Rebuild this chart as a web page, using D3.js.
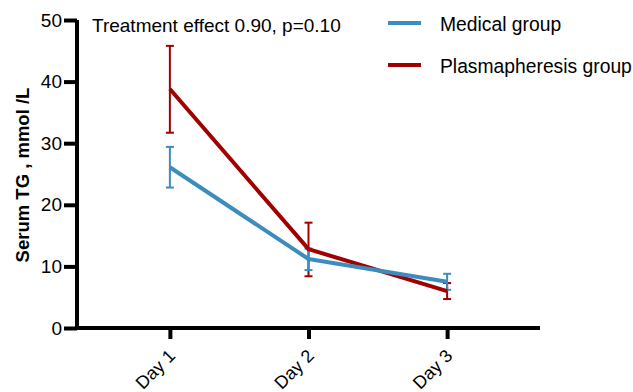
<!DOCTYPE html>
<html>
<head>
<meta charset="utf-8">
<script src="https://cdn.jsdelivr.net/npm/d3@7"></script>
<style>
  body { margin: 0; background: #fff; }
  text { font-family: "Liberation Sans", Arial, sans-serif; }
</style>
</head>
<body>
<svg id="chart" width="633" height="392"></svg>
<script>
const days = ["Day 1", "Day 2", "Day 3"];
const yTicks = [0, 10, 20, 30, 40, 50];

const medicalMean = [26.1, 11.2, 7.5];
const medicalLow = [22.8, 9.4, 6.2];
const medicalHigh = [29.4, 12.9, 8.8];

const plasmaMean = [38.8, 12.8, 6.0];
const plasmaLow = [31.7, 8.4, 4.7];
const plasmaHigh = [45.8, 17.1, 7.3];

const seriesNames = ["Medical group", "Plasmapheresis group"];
const seriesColors = ["#3b8dbd", "#a00000"];
const annotation = "Treatment effect 0.90, p=0.10";

const svg = d3.select("#chart");
const margin = { left: 77, right: 93, top: 20, bottom: 64 };
const width = 633, height = 392;

const x = d3.scalePoint()
  .domain(days)
  .range([margin.left, width - margin.right])
  .padding(0.67);
const y = d3.scaleLinear()
  .domain([0, 50])
  .range([height - margin.bottom, margin.top]);

const series = [
  { name: seriesNames[0], color: seriesColors[0], mean: medicalMean, low: medicalLow, high: medicalHigh },
  { name: seriesNames[1], color: seriesColors[1], mean: plasmaMean, low: plasmaLow, high: plasmaHigh },
];

// Error bars (drawn under lines)
const capW = 8;
for (const s of series.slice().reverse()) {
  const g = svg.append("g");
  days.forEach((d, i) => {
    const cx = x(d);
    g.append("line").attr("x1", cx).attr("x2", cx)
      .attr("y1", y(s.low[i])).attr("y2", y(s.high[i]))
      .attr("stroke", s.color).attr("stroke-width", 2);
    for (const v of [s.low[i], s.high[i]]) {
      g.append("line").attr("x1", cx - capW / 2).attr("x2", cx + capW / 2)
        .attr("y1", y(v)).attr("y2", y(v))
        .attr("stroke", s.color).attr("stroke-width", 2);
    }
  });
}

// Lines: red first, blue on top
const line = d3.line().x((d) => x(d[0])).y((d) => y(d[1]));
for (const s of series.slice().reverse()) {
  svg.append("path")
    .datum(days.map((d, i) => [d, s.mean[i]]))
    .attr("fill", "none")
    .attr("stroke", s.color)
    .attr("stroke-width", 4)
    .attr("stroke-linejoin", "round")
    .attr("d", line);
}

// Y axis
const yAxis = svg.append("g")
  .attr("transform", `translate(${margin.left},0)`)
  .call(d3.axisLeft(y).tickValues(yTicks).tickSize(13).tickPadding(2));
yAxis.select(".domain").attr("stroke", "#000").attr("stroke-width", 4)
  .attr("d", `M0,${y(50)}V${y(0) + 2}`);
yAxis.selectAll(".tick line").attr("stroke", "#000").attr("stroke-width", 4);
yAxis.selectAll(".tick text").attr("font-size", 19).attr("fill", "#000")
  .attr("font-family", "Liberation Sans, Arial, sans-serif");

// X axis
const xAxis = svg.append("g")
  .attr("transform", `translate(0,${y(0)})`)
  .call(d3.axisBottom(x).tickSize(11).tickPadding(6));
xAxis.select(".domain").attr("stroke", "#000").attr("stroke-width", 4)
  .attr("d", `M${margin.left - 2},0H${width - margin.right}`);
xAxis.selectAll(".tick line").attr("stroke", "#000").attr("stroke-width", 4);
xAxis.selectAll(".tick text")
  .attr("font-size", 18).attr("fill", "#000")
  .attr("font-family", "Liberation Sans, Arial, sans-serif")
  .attr("text-anchor", "end")
  .attr("x", 0).attr("y", 0).attr("dy", 0)
  .attr("transform", "translate(6,29) rotate(-45)");

// Y axis title
svg.append("text")
  .attr("transform", `translate(29,175) rotate(-90)`)
  .attr("text-anchor", "middle")
  .attr("font-size", 18.5)
  .attr("font-weight", "bold")
  .attr("fill", "#000")
  .text("Serum TG , mmol /L");

// Annotation
svg.append("text")
  .attr("x", 92).attr("y", 32)
  .attr("font-size", 19)
  .attr("fill", "#000")
  .text(annotation);

// Legend
const legend = svg.append("g");
series.forEach((s, i) => {
  const ly = 23 + i * 42;
  legend.append("line").attr("x1", 388).attr("x2", 421)
    .attr("y1", ly).attr("y2", ly)
    .attr("stroke", s.color).attr("stroke-width", 4);
  legend.append("text").attr("x", 440).attr("y", ly + 8)
    .attr("font-size", 19.3).attr("fill", "#000")
    .text(s.name);
});
</script>
</body>
</html>
